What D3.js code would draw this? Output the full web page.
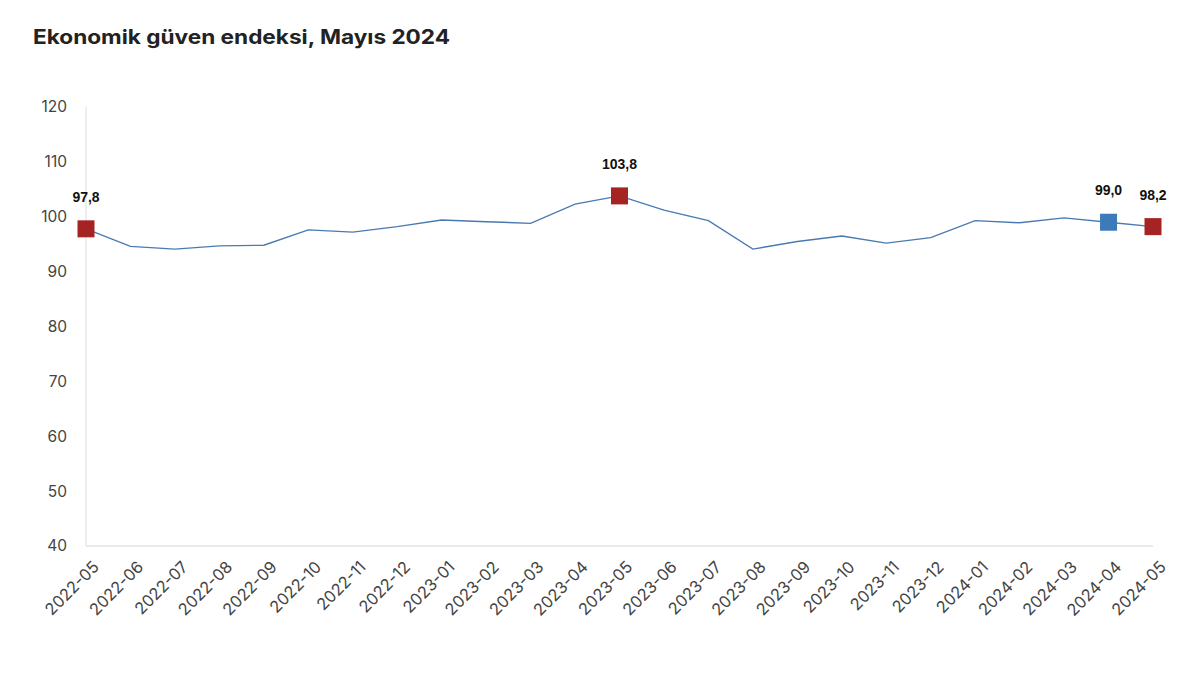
<!DOCTYPE html>
<html>
<head>
<meta charset="utf-8">
<script src="https://cdn.jsdelivr.net/npm/d3@7"></script>
<style>
  html, body { margin: 0; padding: 0; background: #fff; }
  svg { display: block; }
</style>
</head>
<body>
<svg id="chart" width="1200" height="688"></svg>
<script>
const title = "Ekonomik güven endeksi, Mayıs 2024";
const months = ["2022-05","2022-06","2022-07","2022-08","2022-09","2022-10","2022-11","2022-12",
  "2023-01","2023-02","2023-03","2023-04","2023-05","2023-06","2023-07","2023-08","2023-09",
  "2023-10","2023-11","2023-12","2024-01","2024-02","2024-03","2024-04","2024-05"];
const values = [97.8, 94.6, 94.1, 94.7, 94.8, 97.6, 97.2, 98.2,
  99.4, 99.1, 98.8, 102.3, 103.8, 101.2, 99.3, 94.1, 95.5,
  96.5, 95.2, 96.2, 99.3, 98.9, 99.8, 99.0, 98.2];
const yTicks = [40, 50, 60, 70, 80, 90, 100, 110, 120];
const highlightMonths = ["2022-05", "2023-05", "2024-04", "2024-05"];
const highlightColors = ["red", "red", "blue", "red"];

const colors = { red: "#a52423", blue: "#3d7ab8", line: "#4a7ab2" };
const data = months.map((m, i) => ({ m, v: values[i] }));

const svg = d3.select("#chart");
const m = { left: 86, right: 1153, top: 107, bottom: 546 };

const x = d3.scalePoint().domain(months).range([m.left, m.right]);
const y = d3.scaleLinear().domain([40, 120]).range([m.bottom, m.top]);

// title
const t = svg.append("text")
  .attr("x", 33).attr("y", 44)
  .attr("font-family", "Inter, 'Liberation Sans', Arial, sans-serif")
  .attr("font-weight", 700).attr("font-size", 20)
  .attr("fill", "#222")
  .text(title);
const tw = t.node().getComputedTextLength();
if (tw > 0) t.attr("textLength", 417).attr("lengthAdjust", "spacingAndGlyphs");

// axis lines
svg.append("line")
  .attr("x1", m.left).attr("x2", m.left)
  .attr("y1", y(120)).attr("y2", y(40))
  .attr("stroke", "#e3e3e3").attr("stroke-width", 1.2);
svg.append("line")
  .attr("x1", m.left).attr("x2", m.right)
  .attr("y1", y(40)).attr("y2", y(40))
  .attr("stroke", "#e3e3e3").attr("stroke-width", 1.5);

// y labels
svg.append("g").selectAll("text").data(yTicks).join("text")
  .attr("x", 67).attr("y", d => y(d))
  .attr("dy", "0.35em")
  .attr("text-anchor", "end")
  .attr("font-family", "Inter, 'Liberation Sans', Arial, sans-serif")
  .attr("font-size", 15.5).attr("fill", "#444")
  .text(d => d);

// x labels
svg.append("g").selectAll("text").data(months).join("text")
  .attr("transform", d => `translate(${x(d) + 10},${y(40) + 18}) rotate(-45)`)
  .attr("text-anchor", "end")
  .attr("dy", "0.35em")
  .attr("font-family", "Inter, 'Liberation Sans', Arial, sans-serif")
  .attr("font-size", 16.4).attr("fill", "#444")
  .text(d => d);

// line
svg.append("path")
  .datum(data)
  .attr("fill", "none")
  .attr("stroke", colors.line)
  .attr("stroke-width", 1.4)
  .attr("d", d3.line().x(d => x(d.m)).y(d => y(d.v)));

// markers
const hl = data.filter(d => highlightMonths.includes(d.m));
const sz = 17;
svg.append("g").selectAll("rect").data(hl).join("rect")
  .attr("x", d => x(d.m) - sz / 2)
  .attr("y", d => y(d.v) - sz / 2)
  .attr("width", sz).attr("height", sz)
  .attr("fill", d => colors[highlightColors[highlightMonths.indexOf(d.m)]]);

// data labels
svg.append("g").selectAll("text").data(hl).join("text")
  .attr("x", d => x(d.m))
  .attr("y", d => y(d.v) - 27)
  .attr("text-anchor", "middle")
  .attr("font-family", "'Liberation Sans', Arial, sans-serif")
  .attr("font-weight", 700).attr("font-size", 14)
  .attr("fill", "#111")
  .text(d => d.v.toFixed(1).replace(".", ","));
</script>
</body>
</html>
